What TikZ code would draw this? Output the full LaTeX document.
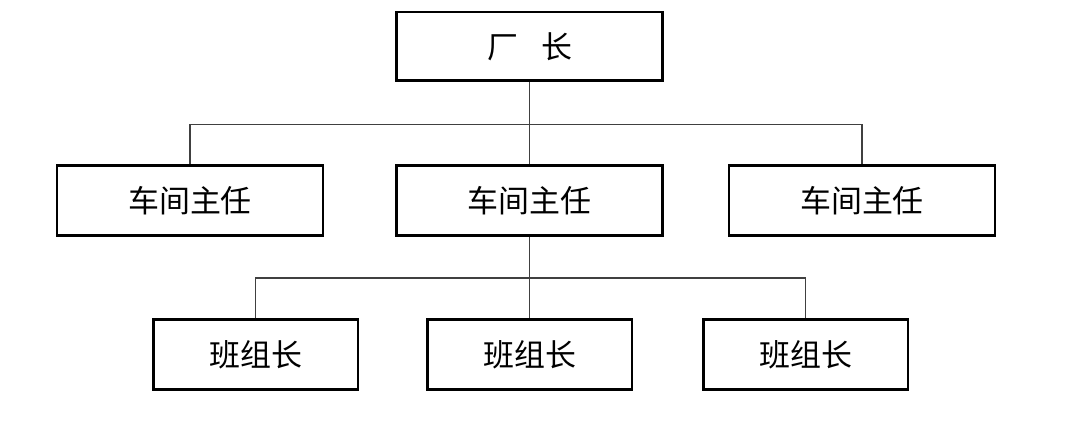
\documentclass[tikz,border=0pt]{standalone}
\usepackage{fontspec}
\newfontfamily\cjk{Noto Sans CJK SC}
\usepackage{tikz}
\usepackage{xcolor}

\begin{document}
\begin{tikzpicture}[
  post/.style={draw=black,line width=2.1pt,minimum height=1.75cm,inner sep=0pt,
    font=\cjk\fontsize{22}{26}\selectfont},
  wide/.style={post,minimum width=6.65cm},
  narrow/.style={post,minimum width=5.12cm},
  link/.style={draw=black!75,line width=0.9pt}]
  \useasboundingbox (0,0) rectangle (26.625,-10.525);
  % top
  \node[wide,minimum height=1.72cm] (boss) at (13.24,-1.16) {厂\hspace{0.75em}长};
  % workshop heads
  \node[wide] (head1) at (4.75,-5.02) {车间主任};
  \node[wide] (head2) at (13.24,-5.02) {车间主任};
  \node[wide] (head3) at (21.55,-5.02) {车间主任};
  % team leaders
  \node[narrow] (lead1) at (6.39,-8.87) {班组长};
  \node[narrow] (lead2) at (13.24,-8.87) {班组长};
  \node[narrow] (lead3) at (20.14,-8.87) {班组长};
  \coordinate (busA) at (13.24,-3.12); \coordinate (busB) at (13.24,-6.95);
  \draw[link] (boss.south) -- (busA); \draw[link] (busA) -- (head2.north);
  \draw[link] (head1.north) |- (busA) -| (head3.north);
  \draw[link] (head2.south) -- (busB); \draw[link] (busB) -- (lead2.north);
  \draw[link] (lead1.north) |- (busB) -| (lead3.north);
\end{tikzpicture}
\end{document}
